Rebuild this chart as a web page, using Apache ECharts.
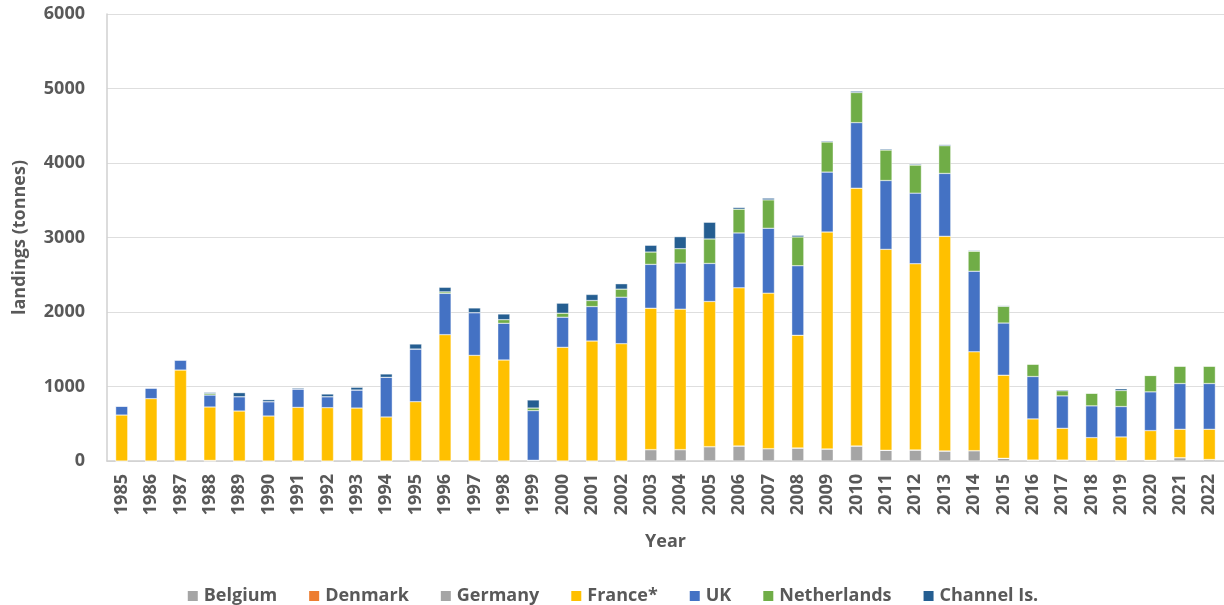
<!DOCTYPE html>
<html>
<head>
<meta charset="utf-8">
<script src="https://cdn.jsdelivr.net/npm/echarts@6/dist/echarts.min.js"></script>
<style>
  html, body { margin: 0; padding: 0; background: #fff; }
  #chart { width: 1224px; height: 605px; }
</style>
</head>
<body>
<div id="chart"></div>
<script>
// years on the x axis
const years = [];
for (let y = 1985; y <= 2022; y++) years.push(String(y));

// landings in tonnes
const belgium = [0,0,0,0,0,0,0,0,0,0,0,0,0,0,10,0,0,0,153,153,193,202,166,175,162,202,144,148,135,139,36,13,13,5,5,10,45,20];
const denmark = [0,0,0,8,0,0,0,0,0,0,0,0,0,0,0,0,0,0,0,0,0,0,0,0,0,0,0,0,0,0,0,0,0,0,0,0,0,0];
const germany = [0,0,0,0,0,0,0,0,0,0,0,0,0,0,0,0,0,0,0,0,0,0,0,0,0,0,0,0,0,0,0,0,0,0,0,0,0,0];
const france = [617,837,1221,717,671,604,720,716,711,591,796,1696,1418,1356,0,1526,1611,1575,1898,1885,1948,2123,2087,1512,2912,3460,2697,2500,2881,1327,1116,552,426,309,318,398,381,406];
const uk = [120,143,135,160,192,192,246,147,242,532,707,554,573,492,666,404,462,624,588,619,511,736,871,934,804,880,924,947,844,1081,700,569,435,426,408,520,614,614];
const netherlands = [0,0,0,20,0,0,0,0,0,0,0,20,0,49,35,54,81,108,166,193,328,319,381,386,404,404,409,377,372,269,224,166,68,170,215,220,233,233];
const channel = [0,0,0,15,54,27,14,36,36,45,67,61,63,76,108,134,81,72,90,161,224,22,23,22,13,18,14,13,14,9,9,0,13,0,23,0,0,0];

const chart = echarts.init(document.getElementById('chart'));

const font = '"Open Sans", sans-serif';
const textColor = '#595959';

function series(name, data, color) {
  return {
    name: name,
    type: 'bar',
    stack: 'total',
    data: data,
    barCategoryGap: '59%',
    itemStyle: { color: color, borderColor: '#ffffff', borderWidth: 0.4 }
  };
}

chart.setOption({
  animation: false,
  textStyle: { fontFamily: font },
  grid: { left: 107, top: 14, width: 1121, bottom: 144, containLabel: false },
  legend: {
    bottom: -5,
    left: 'center',
    itemWidth: 12,
    itemHeight: 12,
    itemGap: 30,
    icon: 'rect',
    textStyle: { fontFamily: font, fontSize: 18, fontWeight: 'bold', color: textColor }
  },
  xAxis: {
    type: 'category',
    data: years,
    name: 'Year',
    nameLocation: 'middle',
    nameGap: 72,
    nameTextStyle: { fontFamily: font, fontSize: 18, fontWeight: 'bold', color: textColor },
    axisTick: { show: false },
    axisLine: { lineStyle: { color: '#d0d0d0', width: 1.5 } },
    axisLabel: { rotate: 90, fontFamily: font, fontSize: 18, fontWeight: 'bold', color: textColor, margin: 13, interval: 0 }
  },
  yAxis: {
    type: 'value',
    min: 0,
    max: 6000,
    interval: 1000,
    name: 'landings (tonnes)',
    nameLocation: 'middle',
    nameGap: 78,
    nameTextStyle: { fontFamily: font, fontSize: 18, fontWeight: 'bold', color: textColor },
    axisLine: { show: true, lineStyle: { color: '#d0d0d0', width: 1.5 } },
    axisLabel: { fontFamily: font, fontSize: 18, fontWeight: 'bold', color: textColor, margin: 22, formatter: v => String(v) },
    splitLine: { lineStyle: { color: '#dedede', width: 1.2 } }
  },
  series: [
    series('Belgium', belgium, '#A5A5A5'),
    series('Denmark', denmark, '#ED7D31'),
    series('Germany', germany, '#A5A5A5'),
    series('France*', france, '#FFC000'),
    series('UK', uk, '#4472C4'),
    series('Netherlands', netherlands, '#70AD47'),
    series('Channel Is.', channel, '#255E91')
  ]
});
</script>
</body>
</html>
